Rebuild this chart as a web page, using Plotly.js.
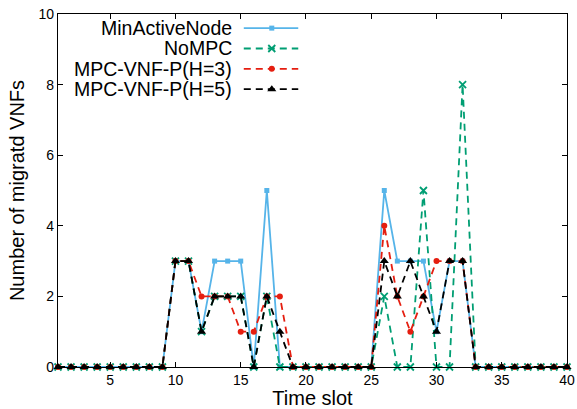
<!DOCTYPE html>
<html>
<head>
<meta charset="utf-8">
<script src="https://cdn.plot.ly/plotly-3.0.1.min.js"></script>
<style>html,body{margin:0;padding:0;background:#fff;}#chart{width:577px;height:409px;}</style>
</head>
<body>
<div id="chart"></div>
<script>
const timeSlots = Array.from({length: 40}, (_, i) => i + 1);
const seriesNames = ["MinActiveNode", "NoMPC", "MPC-VNF-P(H=3)", "MPC-VNF-P(H=5)"];
const minActiveNode = [0,0,0,0,0,0,0,0,0,3, 3,1,3,3,3,0,5,0,0,0, 0,0,0,0,0,5,3,3,3,1, 3,3,0,0,0,0,0,0,0,0];
const noMPC         = [0,0,0,0,0,0,0,0,0,3, 3,1,2,2,2,0,2,0,0,0, 0,0,0,0,0,2,0,0,5,0, 0,8,0,0,0,0,0,0,0,0];
const mpcH3         = [0,0,0,0,0,0,0,0,0,3, 3,2,2,2,1,1,2,2,0,0, 0,0,0,0,0,4,2,1,2,3, 3,3,0,0,0,0,0,0,0,0];
const mpcH5         = [0,0,0,0,0,0,0,0,0,3, 3,1,2,2,2,0,2,1,0,0, 0,0,0,0,0,3,2,3,2,1, 3,3,0,0,0,0,0,0,0,0];
const xTicks = [5,10,15,20,25,30,35,40];
const yTicks = [0,2,4,6,8,10];

const colors = ["#56b4e9", "#009e73", "#e51e10", "#000000"];
const dashes = ["solid", "7px,5px", "7px,5px", "7px,5px"];
const symbols = ["square", "x-thin-open", "circle", "triangle-up"];
const msizes = [5, 7, 6, 8];
const values = [minActiveNode, noMPC, mpcH3, mpcH5];

const traces = values.map((v, i) => ({
  x: timeSlots, y: v, type: "scatter", mode: "lines+markers", name: seriesNames[i],
  line: {color: colors[i], width: 1.8, dash: dashes[i]},
  marker: {color: colors[i], symbol: symbols[i], size: msizes[i], line: {color: colors[i], width: i === 1 ? 1.8 : 0}},
  showlegend: false, cliponaxis: false
}));

// custom gnuplot-style legend (text left, sample right)
const legRows = [0.9600, 0.9023, 0.8446, 0.7869];
const legTextX = 0.344, legL = 0.365, legR = 0.472, legM = 0.420;
const fam = "Liberation Sans, Arial, sans-serif";
const annotations = seriesNames.map((n, i) => ({
  xref: "paper", yref: "paper", x: legTextX, y: legRows[i], xanchor: "right", yanchor: "middle",
  text: n, showarrow: false, borderpad: 0, font: {family: fam, size: 19.5, color: "#000"}
}));
const shapes = seriesNames.map((n, i) => ({
  type: "line", xref: "paper", yref: "paper", x0: legL, x1: legR, y0: legRows[i], y1: legRows[i],
  line: {color: colors[i], width: 1.8, dash: dashes[i]}
}));
seriesNames.forEach((n, i) => {
  traces.push({
    x: [legM], y: [legRows[i]], xaxis: "x2", yaxis: "y2", type: "scatter", mode: "markers",
    marker: {color: colors[i], symbol: symbols[i], size: msizes[i], line: {color: colors[i], width: i === 1 ? 1.8 : 0}},
    showlegend: false, hoverinfo: "skip", cliponaxis: false
  });
});

const axFont = {family: fam, size: 14, color: "#000"};
const layout = {
  width: 577, height: 409,
  margin: {l: 58, r: 10, t: 14, b: 42},
  paper_bgcolor: "#fff", plot_bgcolor: "#fff",
  showlegend: false,
  xaxis: {
    range: [1, 40], tickvals: xTicks, ticktext: xTicks.map(String),
    ticks: "inside", ticklen: 5, tickcolor: "#000", tickwidth: 1,
    showline: true, linecolor: "#000", linewidth: 1.2, mirror: "ticks",
    showgrid: false, zeroline: false, tickfont: axFont,
    title: {text: "Time slot", font: {family: fam, size: 20, color: "#000"}, standoff: 3}
  },
  yaxis: {
    range: [0, 10], tickvals: yTicks, ticktext: yTicks.map(String),
    ticks: "inside", ticklen: 5, tickcolor: "#000", tickwidth: 1,
    showline: true, linecolor: "#000", linewidth: 1.2, mirror: "ticks",
    showgrid: false, zeroline: false, tickfont: axFont,
    title: {text: "Number of migratd VNFs", font: {family: fam, size: 20, color: "#000"}, standoff: 8}
  },
  xaxis2: {overlaying: "x", range: [0, 1], visible: false, fixedrange: true},
  yaxis2: {overlaying: "y", range: [0, 1], visible: false, fixedrange: true},
  annotations: annotations,
  shapes: shapes
};
Plotly.newPlot("chart", traces, layout, {displayModeBar: false, staticPlot: true});
</script>
</body>
</html>
